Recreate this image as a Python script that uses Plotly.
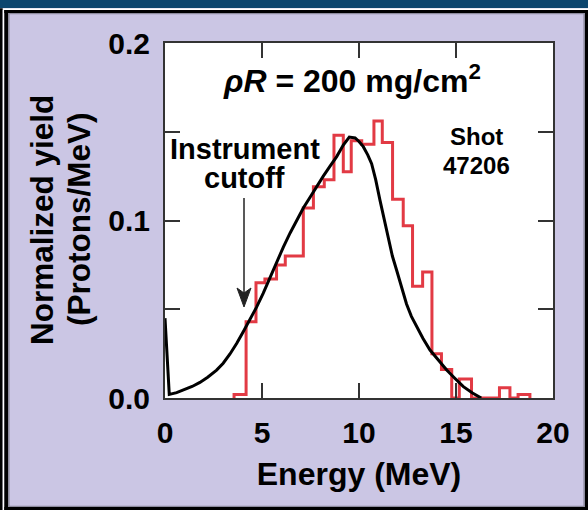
import plotly.graph_objects as go

# ---- data ----
hist_edges = [3.56, 4.18, 4.69, 5.15, 5.75, 6.2, 7.13, 7.65, 8.21, 8.71, 9.19, 9.6,
              10.14, 10.77, 11.2, 11.73, 12.28, 12.76, 13.28, 13.76, 14.25, 14.78,
              15.17, 15.8, 17.24, 17.78, 18.2, 18.81]
hist_values = [0.002, 0.043, 0.065, 0.067, 0.075, 0.080, 0.107, 0.119, 0.123, 0.148,
               0.1275, 0.145, 0.143, 0.156, 0.144, 0.112, 0.097, 0.063, 0.071, 0.025,
               0.016, 0.0, 0.0107, 0.0, 0.0058, 0.0, 0.002]
model_energy = [0, 0.22, 0.6, 0.94, 1.4, 1.8, 2.2, 2.66, 3.0, 3.35, 3.7, 4.04, 4.38, 4.72,
                5.06, 5.41, 5.75, 6.1, 6.45, 6.79, 7.13, 7.47, 7.8, 8.16, 8.5, 8.85, 9.19,
                9.5, 9.8, 10.0, 10.22, 10.45, 10.65, 10.86, 11.08, 11.3, 11.51, 11.72,
                11.94, 12.2, 12.45, 12.7, 12.97, 13.3, 13.66, 14.1, 14.52, 14.95, 15.38,
                15.85, 16.3]
model_yield = [0.045, 0.002, 0.003, 0.0043, 0.0065, 0.0088, 0.0117, 0.0157, 0.0196, 0.0248,
               0.0308, 0.0375, 0.0443, 0.0512, 0.059, 0.068, 0.0765, 0.085, 0.093, 0.100,
               0.107, 0.113, 0.119, 0.125, 0.1305, 0.136, 0.1425, 0.147, 0.1465, 0.1445,
               0.1416, 0.137, 0.132, 0.123, 0.1115, 0.1, 0.089, 0.08, 0.072, 0.062, 0.053,
               0.046, 0.040, 0.0335, 0.027, 0.021, 0.0158, 0.011, 0.0064, 0.0028, 0.0]
x_tickvals = [0, 5, 10, 15, 20]
x_ticktext = ["0", "5", "10", "15", "20"]
y_tickvals = [0, 0.1, 0.2]
y_ticktext = ["0.0", "0.1", "0.2"]
x_title = "Energy (MeV)"
y_title_lines = ["Normalized yield", "(Protons/MeV)"]

# ---- layout geometry (pixels) ----
W, H = 588, 510
L, R, T, B = 165, 35, 43, 112
PW, PH = W - L - R, H - T - B
XS = PW / 20.0     # px per MeV
YS = PH / 0.2      # px per unit yield

def px(x):
    return (x - L) / PW

def py(y):
    return (H - B - y) / PH

def dx(xpix):
    return (xpix - L) / XS

def dy(ypix):
    return (H - B - ypix) / YS

FONT = "Liberation Sans, Arial, sans-serif"
LAV = "#CBC6E4"

hx = [hist_edges[0]] + hist_edges
hy = [0] + hist_values + [0]

fig = go.Figure()
fig.add_trace(go.Scatter(x=hx, y=hy, mode="lines", line=dict(color="#E23A44", width=3, shape="hv"),
                         hoverinfo="skip", showlegend=False))
fig.add_trace(go.Scatter(x=model_energy, y=model_yield, mode="lines",
                         line=dict(color="#000000", width=3),
                         hoverinfo="skip", showlegend=False))

axis_common = dict(showline=True, linecolor="#333333", linewidth=2, mirror="ticks",
                   ticks="inside", ticklen=15, tickwidth=1.5, tickcolor="#333333",
                   showgrid=False, zeroline=False,
                   tickfont=dict(family=FONT, size=30, color="black", weight="bold"))
fig.update_xaxes(range=[0, 20], tickvals=x_tickvals, ticktext=x_ticktext,
                 ticklabelstandoff=7,
                 title=dict(text=x_title, standoff=15,
                            font=dict(family=FONT, size=32, color="black", weight="bold")),
                 **axis_common)
fig.update_yaxes(range=[0, 0.2], tickvals=y_tickvals, ticktext=y_ticktext,
                 ticklabelstandoff=7,
                 minor=dict(ticks="inside", ticklen=15, tickwidth=1.5, tickcolor="#333333",
                            dtick=0.05, showgrid=False),
                 **axis_common)

shapes = []
def rect(x0, y0, x1, y1, fill=None, line=None, lw=0):
    shapes.append(dict(type="rect", xref="paper", yref="paper",
                       x0=px(x0), x1=px(x1), y0=py(y1), y1=py(y0),
                       fillcolor=fill if fill else "rgba(0,0,0,0)",
                       line=dict(color=line if line else "rgba(0,0,0,0)", width=lw),
                       layer="above"))

rect(0, 0, W, 8.2, fill="#0C466E")
rect(0, 8.2, W, 10, fill="white")
rect(0, 8.2, 2.7, H, fill="black")
rect(2.7, 10, 4.3, H, fill="white")
rect(4.3, 10, 8.3, H, fill="black")
rect(4.3, 10, W, 13, fill="black")
rect(584.7, 10, W, H, fill="black")
rect(4.3, 507, W, H, fill="black")
rect(9.0, 13.7, 584.0, 506.3, line="#8E8C9E", lw=1.2)

# instrument-cutoff arrow (line + filled head)
ax_x, ax_top, ax_tip = 244.0, 198.0, 307.0
shapes.append(dict(type="line", xref="x", yref="y", x0=dx(ax_x), x1=dx(ax_x),
                   y0=dy(ax_top), y1=dy(ax_tip - 12), line=dict(color="#222222", width=1.5)))
shapes.append(dict(type="path", xref="x", yref="y",
                   path="M {a},{b} L {c},{d} L {e},{f} L {g},{h} Z".format(
                       a=dx(ax_x), b=dy(ax_tip),
                       c=dx(ax_x - 7), d=dy(ax_tip - 19),
                       e=dx(ax_x), f=dy(ax_tip - 14),
                       g=dx(ax_x + 7), h=dy(ax_tip - 19)),
                   fillcolor="#222222", line=dict(color="#222222", width=1)))

def ann(text, xp, yp, size, **kw):
    d = dict(text=text, xref="paper", yref="paper", x=px(xp), y=py(yp),
             xanchor="center", yanchor="middle", showarrow=False,
             font=dict(family=FONT, size=size, color="black", weight="bold"))
    d.update(kw)
    return d

annotations = [
    ann("<i>ρR</i> = 200 mg/cm<sup>2</sup>", 352, 79, 32),
    ann("Instrument", 244.5, 149, 29),
    ann("cutoff", 244.5, 178, 29),
    ann("Shot", 476.7, 136, 24),
    ann("47206", 476.7, 165, 24),
    ann(y_title_lines[0], 42, 220, 31.5, textangle=-90),
    ann(y_title_lines[1], 79, 219, 31.5, textangle=-90),
]

fig.update_layout(width=W, height=H, margin=dict(l=L, r=R, t=T, b=B, autoexpand=False),
                  paper_bgcolor=LAV, plot_bgcolor="white",
                  shapes=shapes, annotations=annotations, showlegend=False)

fig.write_html("out.html", config={"displayModeBar": False},
               post_script="document.body.style.margin='0';document.body.style.padding='0';"
                           "document.body.style.overflow='hidden';")
